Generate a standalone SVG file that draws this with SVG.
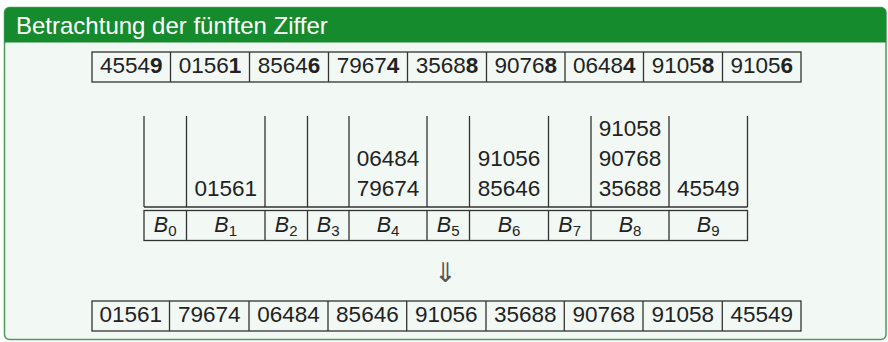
<svg xmlns="http://www.w3.org/2000/svg" width="888" height="342" viewBox="0 0 888 342">
<style>
.num{font-family:"Liberation Sans",Arial,sans-serif;font-size:22.5px;fill:#222;text-anchor:middle}
.lbl{font-family:"Liberation Sans",Arial,sans-serif;font-size:21.5px;fill:#222;text-anchor:middle}
.sub{font-size:15px}
.ln{stroke:#333;stroke-width:1.3;fill:none}
.cell{stroke:#333;stroke-width:1.3;fill:none}
</style>
<g id="frame">
<rect x="4.5" y="7.5" width="881.5" height="332" rx="5" fill="#f2f8f4" stroke="#4a9a5c" stroke-width="1.5"/>
<path d="M4.5 42.5 V12.5 A5 5 0 0 1 9.5 7.5 H881 A5 5 0 0 1 886 12.5 V42.5 Z" fill="#168b2d"/>
<text x="16" y="34" font-family="Liberation Sans,Arial,sans-serif" font-size="24" fill="#ffffff">Betrachtung der fünften Ziffer</text>
</g>
<g id="input-row">
<rect class="cell" x="92" y="52" width="709" height="30"/>
<path class="ln" d="M170.5 52V82M249.5 52V82M328.5 52V82M407.5 52V82M486.5 52V82M565 52V82M643.5 52V82M722.5 52V82"/>
<text class="num" x="131.2" y="73">4554<tspan font-weight="bold">9</tspan></text>
<text class="num" x="210" y="73">0156<tspan font-weight="bold">1</tspan></text>
<text class="num" x="289" y="73">8564<tspan font-weight="bold">6</tspan></text>
<text class="num" x="368" y="73">7967<tspan font-weight="bold">4</tspan></text>
<text class="num" x="447" y="73">3568<tspan font-weight="bold">8</tspan></text>
<text class="num" x="525.7" y="73">9076<tspan font-weight="bold">8</tspan></text>
<text class="num" x="604.2" y="73">0648<tspan font-weight="bold">4</tspan></text>
<text class="num" x="683" y="73">9105<tspan font-weight="bold">8</tspan></text>
<text class="num" x="761.7" y="73">9105<tspan font-weight="bold">6</tspan></text>
</g>
<g id="buckets">
<path class="ln" d="M144 116V207M186.5 116V207M265 116V207M307.5 116V207M349 116V207M427 116V207M469.5 116V207M548.5 116V207M591 116V207M669 116V207M747.5 116V207M144 207H747.5"/>
<text class="num" x="225.7" y="196">01561</text>
<text class="num" x="388" y="166">06484</text>
<text class="num" x="388" y="196">79674</text>
<text class="num" x="509" y="166">91056</text>
<text class="num" x="509" y="196">85646</text>
<text class="num" x="630" y="136">91058</text>
<text class="num" x="630" y="166">90768</text>
<text class="num" x="630" y="196">35688</text>
<text class="num" x="708.2" y="196">45549</text>
</g>
<g id="labels">
<rect class="cell" x="144" y="210.5" width="603.5" height="30"/>
<path class="ln" d="M186.5 210.5V240.5M265 210.5V240.5M307.5 210.5V240.5M349 210.5V240.5M427 210.5V240.5M469.5 210.5V240.5M548.5 210.5V240.5M591 210.5V240.5M669 210.5V240.5"/>
<text class="lbl" x="165.2" y="232"><tspan font-style="italic">B</tspan><tspan class="sub" dy="3.5">0</tspan></text>
<text class="lbl" x="225.7" y="232"><tspan font-style="italic">B</tspan><tspan class="sub" dy="3.5">1</tspan></text>
<text class="lbl" x="286.2" y="232"><tspan font-style="italic">B</tspan><tspan class="sub" dy="3.5">2</tspan></text>
<text class="lbl" x="328.2" y="232"><tspan font-style="italic">B</tspan><tspan class="sub" dy="3.5">3</tspan></text>
<text class="lbl" x="388" y="232"><tspan font-style="italic">B</tspan><tspan class="sub" dy="3.5">4</tspan></text>
<text class="lbl" x="448.2" y="232"><tspan font-style="italic">B</tspan><tspan class="sub" dy="3.5">5</tspan></text>
<text class="lbl" x="509" y="232"><tspan font-style="italic">B</tspan><tspan class="sub" dy="3.5">6</tspan></text>
<text class="lbl" x="569.7" y="232"><tspan font-style="italic">B</tspan><tspan class="sub" dy="3.5">7</tspan></text>
<text class="lbl" x="630" y="232"><tspan font-style="italic">B</tspan><tspan class="sub" dy="3.5">8</tspan></text>
<text class="lbl" x="708.2" y="232"><tspan font-style="italic">B</tspan><tspan class="sub" dy="3.5">9</tspan></text>
</g>
<g id="connectors">
<text x="445.5" y="282" font-family="DejaVu Sans,sans-serif" font-weight="200" font-size="27" fill="#555" text-anchor="middle">⇓</text>
</g>
<g id="output-row">
<rect class="cell" x="92" y="301" width="709" height="30"/>
<path class="ln" d="M169.5 301V331M249 301V331M328 301V331M406.7 301V331M486 301V331M564.3 301V331M643 301V331M722.3 301V331"/>
<text class="num" x="130.8" y="322">01561</text>
<text class="num" x="209.2" y="322">79674</text>
<text class="num" x="288.5" y="322">06484</text>
<text class="num" x="367.4" y="322">85646</text>
<text class="num" x="446.3" y="322">91056</text>
<text class="num" x="525.2" y="322">35688</text>
<text class="num" x="603.7" y="322">90768</text>
<text class="num" x="682.7" y="322">91058</text>
<text class="num" x="761.7" y="322">45549</text>
</g>
</svg>
